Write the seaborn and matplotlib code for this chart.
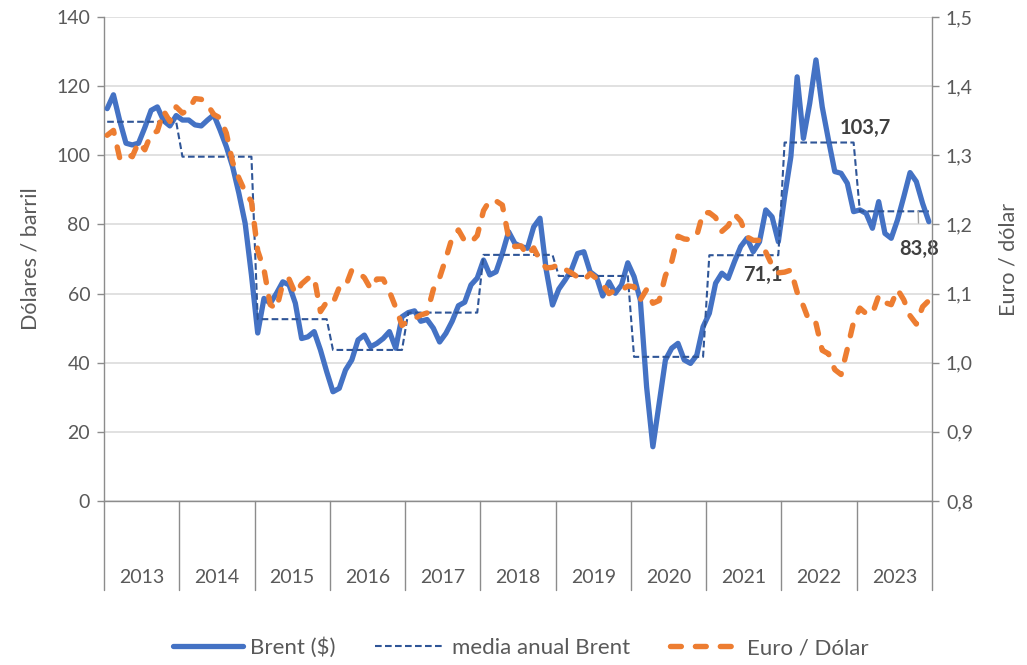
import numpy as np
import pandas as pd
import matplotlib
matplotlib.use("Agg")
import matplotlib.pyplot as plt
import matplotlib.transforms as mtransforms
from matplotlib.lines import Line2D
from matplotlib.ticker import FuncFormatter, MultipleLocator
import seaborn as sns

# ---- data -------------------------------------------------------------
years = [2013, 2014, 2015, 2016, 2017, 2018, 2019, 2020, 2021, 2022, 2023]

# Brent, monthly average ($/barrel)
brent_2013 = [113.5, 117.5, 110.0, 103.5, 103.0, 103.5, 108.0, 113.0, 114.0, 110.0, 108.5, 111.5]
brent_2014 = [110.2, 110.2, 108.8, 108.5, 110.2, 111.7, 107.3, 102.5, 96.7, 89.0, 80.3, 65.4]
brent_2015 = [48.6, 58.6, 57.2, 60.1, 63.4, 62.5, 57.2, 47.0, 47.5, 49.0, 43.7, 37.4]
brent_2016 = [31.6, 32.6, 37.9, 40.8, 46.6, 48.0, 44.6, 45.6, 47.0, 49.0, 44.2, 53.3]
brent_2017 = [54.5, 55.0, 52.0, 52.5, 50.0, 46.0, 48.5, 52.0, 56.5, 57.5, 62.5, 64.5]
brent_2018 = [69.7, 65.4, 66.3, 71.6, 77.9, 74.5, 73.6, 73.1, 79.3, 81.8, 66.8, 56.7]
brent_2019 = [61.3, 63.9, 66.8, 71.6, 72.1, 66.3, 64.9, 59.3, 63.4, 60.1, 62.5, 68.9]
brent_2020 = [64.9, 58.1, 33.0, 15.7, 28.3, 40.8, 44.2, 45.6, 40.8, 39.8, 42.2, 50.4]
brent_2021 = [54.3, 63.0, 65.9, 64.4, 69.2, 73.6, 76.0, 72.1, 75.0, 84.2, 82.2, 75.0]
brent_2022 = [88.0, 99.6, 122.7, 104.9, 115.0, 127.6, 114.0, 104.4, 95.3, 94.8, 91.9, 83.7]
brent_2023 = [84.2, 83.2, 78.9, 86.6, 77.4, 76.0, 81.3, 88.0, 95.0, 92.4, 86.1, 80.8]

# Brent, annual average ($/barrel)
brent_annual = [109.7, 99.6, 52.6, 43.7, 54.5, 71.2, 65.1, 41.7, 71.1, 103.7, 83.8]

# Euro / dollar exchange rate, monthly average
eur_2013 = [1.329, 1.336, 1.296, 1.303, 1.298, 1.319, 1.308, 1.331, 1.335, 1.364, 1.349, 1.370]
eur_2014 = [1.361, 1.366, 1.382, 1.381, 1.373, 1.359, 1.354, 1.332, 1.290, 1.267, 1.247, 1.233]
eur_2015 = [1.162, 1.135, 1.084, 1.078, 1.115, 1.121, 1.100, 1.114, 1.122, 1.124, 1.074, 1.088]
eur_2016 = [1.086, 1.109, 1.110, 1.134, 1.131, 1.123, 1.107, 1.121, 1.121, 1.103, 1.080, 1.054]
eur_2017 = [1.061, 1.064, 1.069, 1.072, 1.106, 1.123, 1.151, 1.181, 1.192, 1.176, 1.174, 1.184]
eur_2018 = [1.220, 1.235, 1.234, 1.228, 1.181, 1.168, 1.169, 1.155, 1.166, 1.148, 1.137, 1.138]
eur_2019 = [1.142, 1.135, 1.130, 1.124, 1.119, 1.129, 1.122, 1.113, 1.100, 1.105, 1.105, 1.111]
eur_2020 = [1.110, 1.091, 1.106, 1.086, 1.090, 1.126, 1.146, 1.183, 1.179, 1.178, 1.184, 1.217]
eur_2021 = [1.217, 1.210, 1.190, 1.198, 1.215, 1.205, 1.182, 1.177, 1.177, 1.160, 1.141, 1.130]
eur_2022 = [1.131, 1.134, 1.102, 1.082, 1.058, 1.057, 1.018, 1.013, 0.990, 0.983, 1.020, 1.059]
eur_2023 = [1.079, 1.071, 1.071, 1.097, 1.087, 1.084, 1.106, 1.091, 1.068, 1.056, 1.081, 1.090]

# ---- frame ------------------------------------------------------------
brent = (brent_2013 + brent_2014 + brent_2015 + brent_2016 + brent_2017 + brent_2018
         + brent_2019 + brent_2020 + brent_2021 + brent_2022 + brent_2023)
eur = (eur_2013 + eur_2014 + eur_2015 + eur_2016 + eur_2017 + eur_2018
       + eur_2019 + eur_2020 + eur_2021 + eur_2022 + eur_2023)
n_months = len(brent)
df = pd.DataFrame({
    "mes": np.arange(n_months),
    "brent": brent,
    "media": np.repeat(brent_annual, 12),
    "eur": eur,
})

# ---- style ------------------------------------------------------------
sns.set_style("white")
plt.rcParams["font.family"] = ["Lato", "DejaVu Sans"]

BLUE = "#4472C4"
DARK_BLUE = "#2F5597"
ORANGE = "#ED7D31"
TEXT = "#595959"
AXIS = "#8C8C8C"
GRID = "#D9D9D9"

fig = plt.figure(figsize=(10.27, 6.65), dpi=100)
ax = fig.add_axes([0.1013, 0.2466, 0.8062, 0.7278])
ax2 = ax.twinx()

sns.lineplot(data=df, x="mes", y="brent", ax=ax, color=BLUE, linewidth=3.8,
             solid_joinstyle="round", solid_capstyle="round", zorder=3)
sns.lineplot(data=df, x="mes", y="media", ax=ax, color=DARK_BLUE, linewidth=1.5,
             linestyle=(0, (3.2, 1.6)), zorder=4)
sns.lineplot(data=df, x="mes", y="eur", ax=ax2, color=ORANGE, linewidth=3.9,
             linestyle=(0, (2.0, 2.6)), dash_capstyle="round",
             dash_joinstyle="round", zorder=3)

# ---- axes -------------------------------------------------------------
ax.set_xlim(-0.5, n_months - 0.5)
ax.set_ylim(0, 140)
ax2.set_ylim(0.8, 1.5)
ax.yaxis.set_major_locator(MultipleLocator(20))
ax2.yaxis.set_major_locator(MultipleLocator(0.1))
ax2.yaxis.set_major_formatter(FuncFormatter(lambda v, p: f"{v:.1f}".replace(".", ",")))

ax.grid(axis="y", color=GRID, linewidth=1.1)
ax.set_axisbelow(True)
ax2.grid(False)

for a in (ax, ax2):
    a.set_xlabel("")
    a.spines["top"].set_visible(False)
    for s in ("left", "right", "bottom"):
        a.spines[s].set_color(AXIS)
        a.spines[s].set_linewidth(1.0)
ax.spines["right"].set_visible(False)
ax2.spines["left"].set_visible(False)
ax2.spines["bottom"].set_visible(False)

ax.set_xticks([])
ax.tick_params(axis="y", direction="out", length=5, width=1, color=AXIS,
               labelsize=14, labelcolor=TEXT, pad=5)
ax2.tick_params(axis="y", direction="out", length=5, width=1, color=AXIS,
                labelsize=14, labelcolor=TEXT, pad=5)

ax.set_ylabel("Dólares / barril", fontsize=15.5, color=TEXT, labelpad=11)
ax2.set_ylabel("Euro / dólar", fontsize=15.5, color=TEXT, labelpad=18)

# year category axis: separators below the plot and centred year labels
trans = mtransforms.blended_transform_factory(ax.transData, ax.transAxes)
for k in range(len(years) + 1):
    ax.plot([12 * k - 0.5] * 2, [0, -0.184], transform=trans, color=AXIS,
            linewidth=1.0, clip_on=False, zorder=5)
for k, yr in enumerate(years):
    ax.text(12 * k + 5.5, -0.159, str(yr), transform=trans, ha="center",
            va="center", fontsize=14, color=TEXT)

# ---- annual average labels -------------------------------------------
def fmt(v):
    return f"{v:.1f}".replace(".", ",")

lab_style = dict(fontsize=14.5, fontweight="bold", color="#404040",
                 ha="center", va="center", textcoords="offset points", zorder=6)
v21 = brent_annual[years.index(2021)]
v22 = brent_annual[years.index(2022)]
v23 = brent_annual[years.index(2023)]
ax.annotate(fmt(v21), xy=(104, v21), xytext=(2.6, -14.5), **lab_style)
ax.annotate(fmt(v22), xy=(119, v22), xytext=(8.3, 10.5), **lab_style)
ax.annotate(fmt(v23), xy=(129.3, v23), xytext=(0.7, -27.0),
            arrowprops=dict(arrowstyle="-", color="#A6A6A6", linewidth=1.0,
                            shrinkA=9, shrinkB=0),
            **lab_style)

# ---- legend -----------------------------------------------------------
handles = [
    Line2D([], [], color=BLUE, linewidth=3.8, solid_capstyle="round"),
    Line2D([], [], color=DARK_BLUE, linewidth=1.5, linestyle=(0, (3.2, 1.6))),
    Line2D([], [], color=ORANGE, linewidth=3.9, linestyle=(0, (2.0, 2.6)),
           dash_capstyle="round"),
]
labels = ["Brent ($)", "media anual Brent", "Euro / Dólar"]
for a in (ax, ax2):
    if a.get_legend() is not None:
        a.get_legend().remove()
fig.legend(handles, labels, loc="center", bbox_to_anchor=(0.507, 0.026), ncol=3,
           frameon=False, fontsize=16, handlelength=3.15, handletextpad=0.3,
           columnspacing=1.8, labelcolor=TEXT)

fig.savefig("out.png", dpi=100)
